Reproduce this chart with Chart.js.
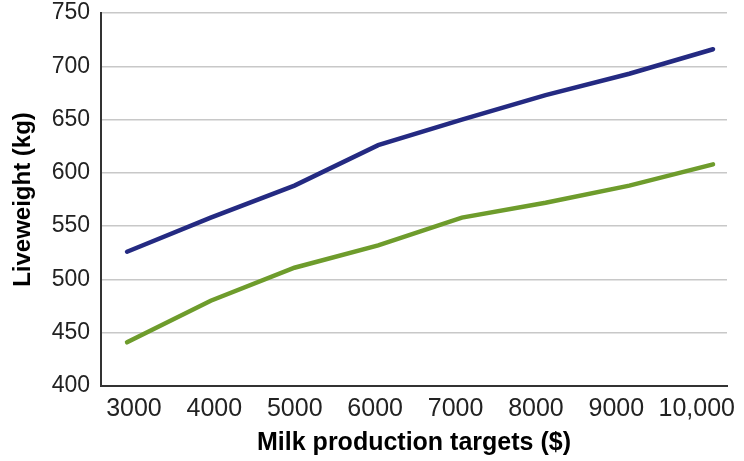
<!DOCTYPE html>
<html>
<head>
<meta charset="utf-8">
<script src="https://cdn.jsdelivr.net/npm/chart.js@4.4.1/dist/chart.umd.min.js"></script>
<style>
  body { margin: 0; background: #fff; }
  #wrap { width: 744px; height: 461px; }
</style>
</head>
<body>
<div id="wrap"><canvas id="weightChart" width="744" height="461"></canvas></div>
<script>
// milk production targets ($) and liveweight (kg)
var targets = [3000, 4000, 5000, 6000, 7000, 8000, 9000, 10000];
var targetLabels = ['3000', '4000', '5000', '6000', '7000', '8000', '9000', '10,000'];
var blueWeights = [526, 558, 588, 626, 650, 673, 693, 716];
var greenWeights = [441, 480, 511, 532, 558, 572, 588, 608];
var yTicks = [400, 450, 500, 550, 600, 650, 700, 750];

function points(ys) {
  return targets.map(function(t, i) { return {x: t, y: ys[i]}; });
}

var textFont = "'Liberation Sans', Arial, Helvetica, sans-serif";

new Chart("weightChart", {
  type: "line",
  data: {
    datasets: [{
      label: 'Blue',
      xAxisID: 'xd',
      data: points(blueWeights),
      borderColor: "rgb(36,42,130)",
      borderWidth: 4.5,
      borderCapStyle: 'round',
      pointRadius: 0,
      tension: 0,
      fill: false
    }, {
      label: 'Green',
      xAxisID: 'xd',
      data: points(greenWeights),
      borderColor: "rgb(110,156,44)",
      borderWidth: 4.5,
      borderCapStyle: 'round',
      pointRadius: 0,
      tension: 0,
      fill: false
    }]
  },
  options: {
    responsive: false,
    animation: false,
    layout: {padding: {top: 13, right: 17, left: 0, bottom: 0}},
    plugins: {
      legend: {display: false},
      tooltip: {enabled: false}
    },
    scales: {
      xd: {
        type: 'linear',
        display: false,
        min: 2689,
        max: 10167
      },
      x: {
        type: 'linear',
        position: 'bottom',
        min: 2590,
        max: 10376,
        afterBuildTicks: function(scale) {
          scale.ticks = targets.map(function(v) { return {value: v}; });
        },
        afterFit: function(scale) {
          scale.height = 75;
          scale.paddingLeft = 0;
          scale.paddingRight = 0;
        },
        grid: {display: false, drawTicks: false},
        border: {display: true, color: '#333', width: 2},
        ticks: {
          padding: 8,
          color: '#222',
          font: {family: textFont, size: 25},
          maxRotation: 0,
          autoSkip: false,
          callback: function(value) {
            var i = targets.indexOf(value);
            return i >= 0 ? targetLabels[i] : '';
          }
        },
        title: {
          display: true,
          text: 'Milk production targets ($)',
          color: '#000',
          font: {family: textFont, size: 25, weight: 'bold'},
          padding: {top: 0, bottom: 3}
        }
      },
      y: {
        type: 'linear',
        min: 400,
        max: 750,
        afterBuildTicks: function(scale) {
          scale.ticks = yTicks.map(function(v) { return {value: v}; });
        },
        afterFit: function(scale) {
          scale.width = 101;
          scale.paddingTop = 0;
          scale.paddingBottom = 0;
        },
        grid: {color: '#c8c8c8', lineWidth: 1.5, drawTicks: false},
        border: {display: true, color: '#333', width: 2},
        ticks: {
          padding: 11,
          color: '#222',
          font: {family: textFont, size: 23}
        },
        title: {
          display: true,
          text: 'Liveweight (kg)',
          color: '#000',
          font: {family: textFont, size: 24, weight: 'bold'},
          padding: {top: 9, bottom: 0}
        }
      }
    }
  }
});
</script>
</body>
</html>
